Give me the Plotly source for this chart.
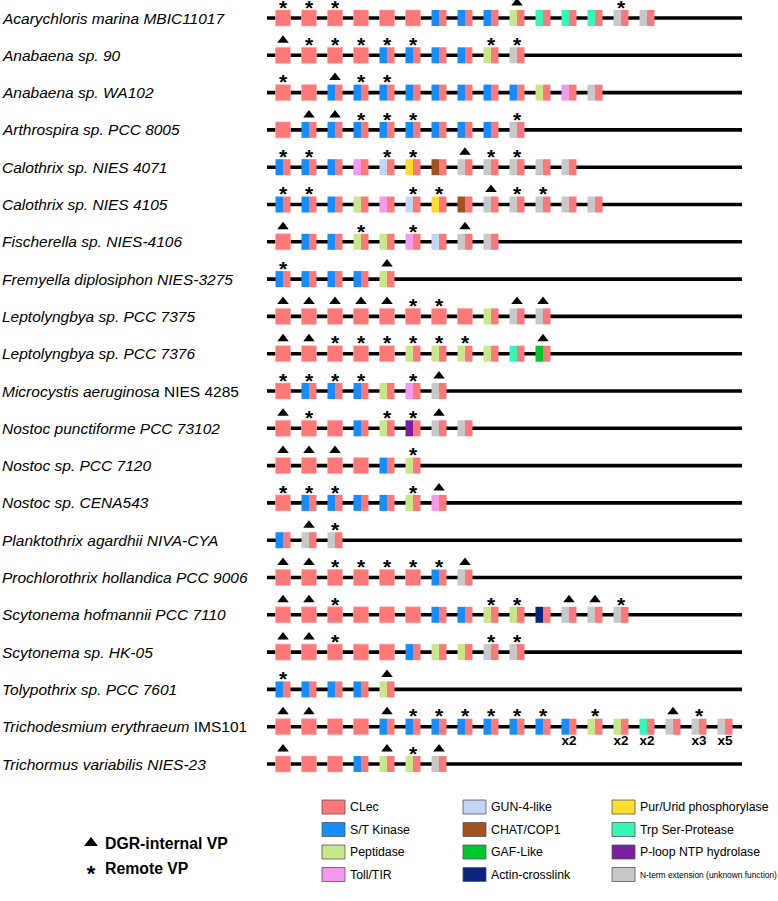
import plotly.graph_objects as go

W, H = 778, 901

# ---------------- data ----------------
species = [
    "<i>Acarychloris marina MBIC11017</i>",
    "<i>Anabaena sp. 90</i>",
    "<i>Anabaena sp. WA102</i>",
    "<i>Arthrospira sp. PCC 8005</i>",
    "<i>Calothrix sp. NIES 4071</i>",
    "<i>Calothrix sp. NIES 4105</i>",
    "<i>Fischerella sp. NIES-4106</i>",
    "<i>Fremyella diplosiphon NIES-3275</i>",
    "<i>Leptolyngbya sp. PCC 7375</i>",
    "<i>Leptolyngbya sp. PCC 7376</i>",
    "<i>Microcystis aeruginosa</i> NIES 4285",
    "<i>Nostoc punctiforme PCC 73102</i>",
    "<i>Nostoc sp. PCC 7120</i>",
    "<i>Nostoc sp. CENA543</i>",
    "<i>Planktothrix agardhii NIVA-CYA</i>",
    "<i>Prochlorothrix hollandica PCC 9006</i>",
    "<i>Scytonema hofmannii PCC 7110</i>",
    "<i>Scytonema sp. HK-05</i>",
    "<i>Tolypothrix sp. PCC 7601</i>",
    "<i>Trichodesmium erythraeum</i> IMS101",
    "<i>Trichormus variabilis NIES-23</i>",
]

# domain code per gene (C = CLec only; others = domain + CLec)
row_domains = [
    "CCCCCCKKKPSSSNN",
    "CCCCKKKKPN",
    "CCKKKKKKKKPTN",
    "CKKKKKKKKN",
    "KKKTGUHNNNNN",
    "KKKPTGUHNNNNN",
    "CKKPPTGNN",
    "KKKKP",
    "CCCCCCCCPNN",
    "CCCCCPPPPSF",
    "CKKKPTN",
    "CCCKPLNN",
    "CCCCKP",
    "CKKKKPT",
    "KNN",
    "CCCCCCKN",
    "CCCCCCKKPPANNN",
    "CCCCCKPPNN",
    "KKKKP",
    "CCCCKKKKKKKKPPSNNN",
    "CCCKPPN",
]

# ^ = DGR-internal VP, * = Remote VP, . = none
row_marks = [
    "***......^...*.",
    "^*****..**",
    "*.^**........",
    ".^^***...*",
    "**..**.^**..",
    "**...**.^**..",
    "^..*.*.^.",
    "*...^",
    "^^^^^**..^^",
    "^^******..^",
    "****.*^",
    "^*..**^.",
    "^^^..*",
    "***..*^",
    ".^*",
    "^^*****^",
    "^^*.....**.^^*",
    "^^*.....**",
    "*...^",
    "^^..^******.*..^*.",
    "^...^*^",
]

# copy-number labels (row 20, Trichodesmium)
mult_row = 19
mult_idx = [11, 13, 14, 16, 17]
mult_lab = ["x2", "x2", "x2", "x3", "x5"]

domain_codes = ["C", "K", "P", "T", "G", "H", "F", "A", "U", "S", "L", "N"]
domain_names = ["CLec", "S/T Kinase", "Peptidase", "Toll/TIR",
                "GUN-4-like", "CHAT/COP1", "GAF-Like", "Actin-crosslink",
                "Pur/Urid phosphorylase", "Trp Ser-Protease",
                "P-loop NTP hydrolase", "N-term extension (unknown function)"]
domain_colors = ["#FF7878", "#168DFF", "#C9E68A", "#F29AEE",
                 "#C2D6F4", "#A0531E", "#00C72E", "#0A2480",
                 "#FFDD2E", "#36F8B6", "#7A1E9E", "#C8C8C8"]
color_of = dict(zip(domain_codes, domain_colors))

# ---------------- geometry (pixels) ----------------
X0, DX = 283.0, 26.0      # first gene centre, gene spacing
Y0, DY = 18.0, 37.3       # first row centre, row spacing
LINE_X0, LINE_X1 = 267.0, 742.0
BW, BH = 15.0, 16.0
FONT = "Arial, Liberation Sans, Helvetica, sans-serif"

def gx(px):  # pixel -> gene-slot units
    return (px - X0) / DX

def gyu(py):  # pixel offset -> row units
    return py / DY

fig = go.Figure()
shapes = []
annotations = []

n = len(species)
for r in range(n):
    fig.add_trace(go.Scatter(x=[gx(LINE_X0), gx(LINE_X1)], y=[r, r], mode="lines",
                             line=dict(color="black", width=3.6),
                             hoverinfo="skip", showlegend=False))
    for i, code in enumerate(row_domains[r]):
        xl = i - BW / 2 / DX
        xr = i + BW / 2 / DX
        yt = r - gyu(BH / 2)
        yb = r + gyu(BH / 2)
        if code == "C":
            shapes.append(dict(type="rect", xref="x", yref="y", x0=xl, x1=xr, y0=yt, y1=yb,
                               fillcolor=color_of["C"], line=dict(width=0.6, color="#FFB0B0"),
                               layer="above"))
        else:
            shapes.append(dict(type="rect", xref="x", yref="y", x0=xl, x1=i, y0=yt, y1=yb,
                               fillcolor=color_of[code], line=dict(width=0), layer="above"))
            shapes.append(dict(type="rect", xref="x", yref="y", x0=i, x1=xr, y0=yt, y1=yb,
                               fillcolor=color_of["C"], line=dict(width=0), layer="above"))

    tri_x = [i for i, m in enumerate(row_marks[r]) if m == "^"]
    star_x = [i for i, m in enumerate(row_marks[r]) if m == "*"]
    if tri_x:
        fig.add_trace(go.Scatter(x=tri_x, y=[r - gyu(15)] * len(tri_x), mode="markers",
                                 marker=dict(symbol="triangle-up", size=10, color="black",
                                             line=dict(width=0)),
                                 hoverinfo="skip", showlegend=False))
    if star_x:
        fig.add_trace(go.Scatter(x=star_x, y=[r - gyu(8.5)] * len(star_x), mode="text",
                                 text=["<b>*</b>"] * len(star_x),
                                 textfont=dict(size=21, color="black", family=FONT),
                                 hoverinfo="skip", showlegend=False))
    annotations.append(dict(xref="paper", yref="y", x=0, y=r, xanchor="left", yanchor="middle",
                            text=species[r], showarrow=False,
                            font=dict(size=15.5, color="black", family=FONT)))

fig.add_trace(go.Scatter(x=mult_idx, y=[mult_row + gyu(15)] * len(mult_idx), mode="text",
                         text=["<b>%s</b>" % t for t in mult_lab],
                         textfont=dict(size=13.5, color="black", family=FONT),
                         hoverinfo="skip", showlegend=False))

# ---------------- legend ----------------
def px_x(px):
    return px / W

def px_y(py):
    return 1 - py / H

fig.add_trace(go.Scatter(x=[px_x(91)], y=[px_y(843)], xaxis="x2", yaxis="y2", mode="markers",
                         marker=dict(symbol="triangle-up", size=12, color="black"),
                         hoverinfo="skip", showlegend=False))
fig.add_trace(go.Scatter(x=[px_x(91)], y=[px_y(875)], xaxis="x2", yaxis="y2", mode="text",
                         text=["<b>*</b>"], textfont=dict(size=22, color="black", family=FONT),
                         hoverinfo="skip", showlegend=False))
annotations.append(dict(xref="paper", yref="paper", x=px_x(103), y=px_y(843), xanchor="left",
                        yanchor="middle", showarrow=False, text="<b>DGR-internal VP</b>",
                        font=dict(size=15.8, color="black", family=FONT)))
annotations.append(dict(xref="paper", yref="paper", x=px_x(103), y=px_y(868), xanchor="left",
                        yanchor="middle", showarrow=False, text="<b>Remote VP</b>",
                        font=dict(size=15.8, color="black", family=FONT)))

col_x = [322, 463, 612]
row_y = [807, 829.5, 852, 874.5]
SW, SH = 23, 14
for k, (name, col) in enumerate(zip(domain_names, domain_colors)):
    c, rr = divmod(k, 4)
    x0 = col_x[c]
    yc = row_y[rr]
    shapes.append(dict(type="rect", xref="paper", yref="paper",
                       x0=px_x(x0), x1=px_x(x0 + SW), y0=px_y(yc - SH / 2), y1=px_y(yc + SH / 2),
                       fillcolor=col, line=dict(width=0.8, color="#555555")))
    fsz = 12.3 if k < 11 else 8.4
    annotations.append(dict(xref="paper", yref="paper", x=px_x(x0 + SW + 3), y=px_y(yc),
                            xanchor="left", yanchor="middle", showarrow=False, text=name,
                            font=dict(size=fsz, color="black", family=FONT)))

fig.update_layout(
    width=W, height=H,
    margin=dict(l=0, r=0, t=0, b=0),
    paper_bgcolor="white", plot_bgcolor="white",
    xaxis=dict(range=[gx(0), gx(W)], visible=False, fixedrange=True),
    yaxis=dict(range=[(H - Y0) / DY, -Y0 / DY], visible=False, fixedrange=True),
    xaxis2=dict(range=[0, 1], visible=False, overlaying="x", fixedrange=True),
    yaxis2=dict(range=[0, 1], visible=False, overlaying="y", fixedrange=True),
    shapes=shapes,
    annotations=annotations,
    showlegend=False,
)

fig.write_html("out.html", config={"displayModeBar": False},
               post_script="document.body.style.margin='0px';")
